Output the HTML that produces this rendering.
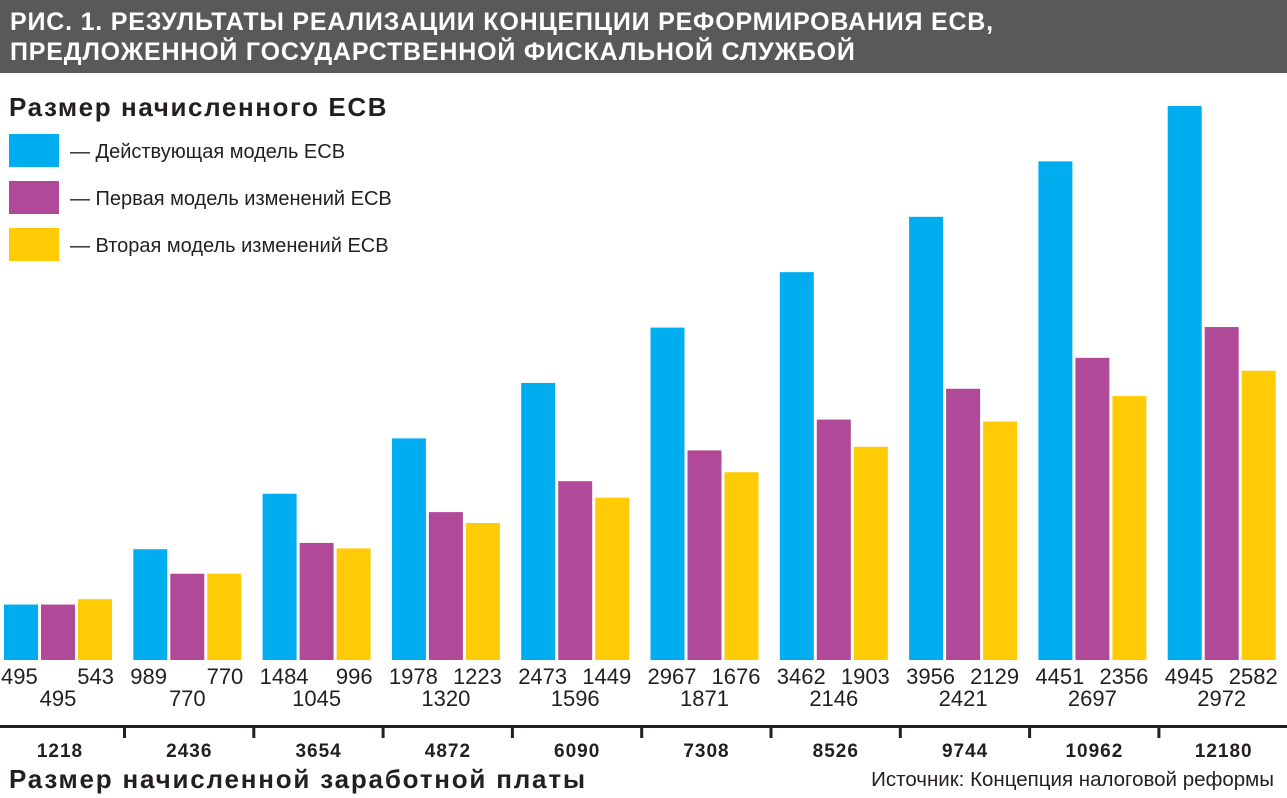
<!DOCTYPE html>
<html><head><meta charset="utf-8"><style>
body{margin:0;width:1287px;height:798px;overflow:hidden;background:#fff;font-family:"Liberation Sans",sans-serif}
#title{position:absolute;left:0;top:0;width:1287px;height:73px;background:#58595b;color:#fff;font-weight:bold;font-size:25px;line-height:30px;padding:7px 0 0 10px;box-sizing:border-box;letter-spacing:0.8px}
</style></head><body>
<div id="title">РИС. 1. РЕЗУЛЬТАТЫ РЕАЛИЗАЦИИ КОНЦЕПЦИИ РЕФОРМИРОВАНИЯ ЕСВ,<br>ПРЕДЛОЖЕННОЙ ГОСУДАРСТВЕННОЙ ФИСКАЛЬНОЙ СЛУЖБОЙ</div>
<svg id="chart" width="1287" height="798" style="position:absolute;left:0;top:0">
<text x="9" y="116" font-size="26" font-weight="bold" fill="#231f20" letter-spacing="1.6">Размер начисленного ЕСВ</text>
<g>
<rect x="9" y="134" width="50" height="33" fill="#00aeef"/>
<text x="70" y="158" font-size="20" fill="#231f20">— Действующая модель ЕСВ</text>
<rect x="9" y="181" width="50" height="33" fill="#b04a98"/>
<text x="70" y="205" font-size="20" fill="#231f20">— Первая модель изменений ЕСВ</text>
<rect x="9" y="228" width="50" height="33" fill="#ffcb05"/>
<text x="70" y="252" font-size="20" fill="#231f20">— Вторая модель изменений ЕСВ</text>
</g>
<g id="bars"></g>
<rect x="0" y="725" width="1287" height="3" fill="#231f20"/>
<g id="xaxis"></g>
<text x="9" y="788" font-size="26" font-weight="bold" fill="#231f20" letter-spacing="1.8">Размер начисленной заработной платы</text>
<text x="1274" y="786" font-size="20.5" fill="#231f20" text-anchor="end">Источник: Концепция налоговой реформы</text>
</svg>
<script>
const categories=["1218","2436","3654","4872","6090","7308","8526","9744","10962","12180"];
const currentModel=[495,989,1484,1978,2473,2967,3462,3956,4451,4945];
const firstModel=[495,770,1045,1320,1596,1871,2146,2421,2697,2972];
const secondModel=[543,770,996,1223,1449,1676,1903,2129,2356,2582];
const NS="http://www.w3.org/2000/svg";
const base=660, k=554/4945, pitch=129.3, bw=34;
const yScale=v=>base-v*k;
const xGroup=i=>4+i*pitch;
const bars=document.getElementById('bars'), xa=document.getElementById('xaxis');
function mk(tag,attrs,parent){const e=document.createElementNS(NS,tag);for(const a in attrs)e.setAttribute(a,attrs[a]);parent.appendChild(e);return e;}
const series=[[currentModel,0,"#00aeef","current"],[firstModel,37,"#b04a98","first"],[secondModel,74,"#ffcb05","second"]];
categories.forEach((c,i)=>{
  const gx=xGroup(i);
  series.forEach(([arr,off,col,nm])=>{
    const y=yScale(arr[i]);
    const r=mk('rect',{x:gx+off,y:y,width:bw,height:base-y,fill:col},bars);
    
    
  });
  const t1=mk('text',{x:gx-3,y:684,'font-size':22,fill:'#231f20'},bars);t1.textContent=currentModel[i];
  
  
  const t3=mk('text',{x:gx+110,y:684,'font-size':22,fill:'#231f20','text-anchor':'end'},bars);t3.textContent=secondModel[i];
  
  
  const t2=mk('text',{x:gx+54,y:706,'font-size':22,fill:'#231f20','text-anchor':'middle'},bars);t2.textContent=firstModel[i];
  
  
  const lab=mk('text',{x:gx+56,y:757,'font-size':19,'font-weight':'bold',fill:'#231f20','text-anchor':'middle','letter-spacing':'1'},xa);lab.textContent=c;
  
  
  if(i<categories.length-1){
    const tk=mk('rect',{x:gx+119,y:726,width:3,height:12,fill:'#231f20'},xa);
    
    
  }
});
</script>
</body></html>
